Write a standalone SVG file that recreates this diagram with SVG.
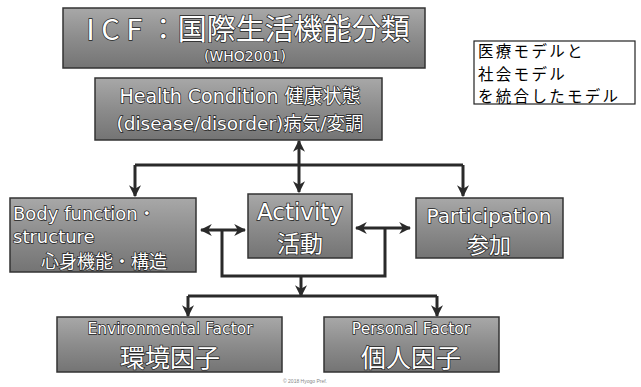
<svg xmlns="http://www.w3.org/2000/svg" width="641" height="387" viewBox="0 0 641 387">
<defs>
<linearGradient id="g" x1="0" y1="0" x2="0" y2="1">
<stop offset="0" stop-color="#a8a8a8"/>
<stop offset="0.5" stop-color="#8c8c8c"/>
<stop offset="1" stop-color="#747474"/>
</linearGradient>
<marker id="ah" viewBox="0 0 10 10" refX="9" refY="5" markerWidth="4" markerHeight="4" orient="auto-start-reverse" markerUnits="strokeWidth">
<path d="M0,0 L10,5 L0,10 L3,5 z" fill="#2a2a2a"/>
</marker>
<style>
.box{fill:url(#g);stroke:#333;stroke-width:1.5}
.t{font-family:"DejaVu Sans","Noto Sans CJK JP",sans-serif;fill:#fff;stroke:#222;stroke-width:1.4;paint-order:stroke;text-anchor:middle}
.j{font-family:"Noto Sans CJK JP",sans-serif}
.c{stroke:#2a2a2a;stroke-width:3;fill:none}
.a{marker-end:url(#ah)}
.d{marker-start:url(#ah);marker-end:url(#ah)}
.k{font-family:"Noto Sans CJK JP",sans-serif;fill:#000;font-size:15.5px;letter-spacing:2.3px}
</style>
</defs>
<g id="title">
<rect class="box" x="63" y="8" width="362" height="60"/>
<text class="t j" x="248" y="40" font-size="29">I C F ：国際生活機能分類</text>
<text class="t" x="245" y="61" font-size="14">(WHO2001)</text>
</g>
<g id="callout">
<rect x="474" y="41" width="161" height="63" fill="#fff" stroke="#222" stroke-width="1.2"/>
<text class="k" x="478" y="57">医療モデルと</text>
<text class="k" x="478" y="79.5">社会モデル</text>
<text class="k" x="478" y="102">を統合したモデル</text>
</g>
<g id="health">
<rect class="box" x="95" y="78" width="287" height="62"/>
<text class="t" x="240" y="103" font-size="19">Health Condition 健康状態</text>
<text class="t" x="240" y="130" font-size="18.5">(disease/disorder)病気/変調</text>
</g>
<g id="body">
<rect class="box" x="10" y="198" width="186" height="74"/>
<text class="t" x="13" y="220" font-size="18" style="text-anchor:start">Body function・</text>
<text class="t" x="13" y="243" font-size="18" style="text-anchor:start">structure</text>
<text class="t j" x="104" y="268" font-size="18">心身機能・構造</text>
</g>
<g id="activity">
<rect class="box" x="248" y="194" width="104" height="64"/>
<text class="t" x="300" y="220" font-size="23">Activity</text>
<text class="t j" x="300" y="252" font-size="23">活動</text>
</g>
<g id="participation">
<rect class="box" x="416" y="198" width="147" height="60"/>
<text class="t" x="489" y="223" font-size="20">Participation</text>
<text class="t j" x="489" y="253" font-size="22">参加</text>
</g>
<g id="environmental">
<rect class="box" x="57" y="317" width="225" height="55"/>
<text class="t" x="170" y="334" font-size="15.5">Environmental  Factor</text>
<text class="t j" x="170" y="367" font-size="25">環境因子</text>
</g>
<g id="personal">
<rect class="box" x="324" y="317" width="175" height="55"/>
<text class="t" x="411" y="334" font-size="15.5">Personal  Factor</text>
<text class="t j" x="411" y="367" font-size="25">個人因子</text>
</g>
<g id="connectors">
<path class="c d" d="M299,141 V192"/>
<path class="c" d="M135,165 H463"/>
<path class="c a" d="M135,165 V196"/>
<path class="c a" d="M463,165 V196"/>
<path class="c d" d="M201,230 H245"/>
<path class="c d" d="M356,228 H410"/>
<path class="c" d="M222,230 V276 H385 V228"/>
<path class="c a" d="M301,276 V296"/>
<path class="c" d="M188,296 H437"/>
<path class="c a" d="M188,296 V316"/>
<path class="c a" d="M437,296 V316"/>
</g>
<text x="305" y="383" font-family="Liberation Sans,sans-serif" font-size="5" fill="#888" text-anchor="middle">© 2018 Hyogo Pref.</text>
</svg>
